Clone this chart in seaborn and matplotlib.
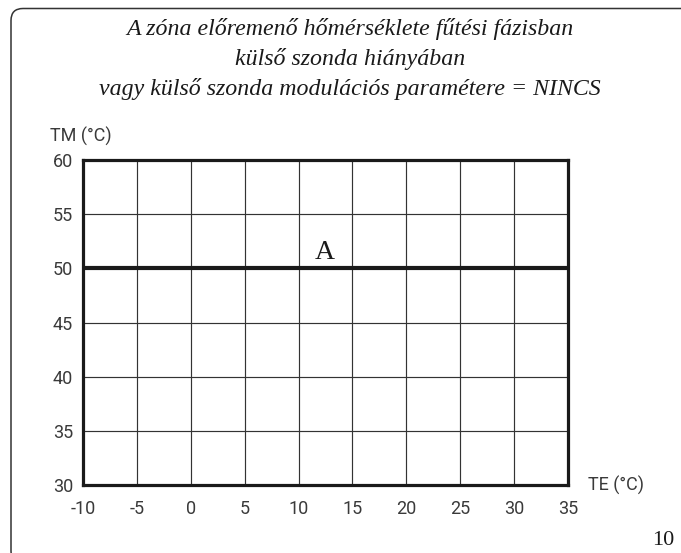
import matplotlib
matplotlib.use("Agg")
import matplotlib.pyplot as plt
import seaborn as sns
import pandas as pd
from matplotlib.patches import FancyBboxPatch
from matplotlib.transforms import IdentityTransform

# ---- data ----
title_lines = ["A zóna előremenő hőmérséklete fűtési fázisban",
               "külső szonda hiányában",
               "vagy külső szonda modulációs paramétere = NINCS"]
te_ticks = [-10, -5, 0, 5, 10, 15, 20, 25, 30, 35]
tm_ticks = [30, 35, 40, 45, 50, 55, 60]
curve_te = [-10, 35]
curve_tm = [50, 50]
curve_name = "A"
x_label = "TE (°C)"
y_label = "TM (°C)"
page_no = "10"

sns.set_theme(style="white")
plt.rcParams['font.family'] = ['Roboto', 'DejaVu Sans']

W, H = 681, 553
fig = plt.figure(figsize=(W / 100, H / 100), dpi=100)
ax = fig.add_axes([83 / W, 1 - 485 / H, (568 - 83) / W, (485 - 160) / H])

df = pd.DataFrame({"TE": curve_te, "TM": curve_tm})
sns.lineplot(data=df, x="TE", y="TM", ax=ax, color="#1a1a1a", linewidth=3.0, zorder=3)

ax.set_xlim(te_ticks[0], te_ticks[-1])
ax.set_ylim(tm_ticks[0], tm_ticks[-1])
ax.set_xticks(te_ticks)
ax.set_yticks(tm_ticks)
ax.set_xticklabels([str(t) for t in te_ticks])
ax.set_yticklabels([str(t) for t in tm_ticks])
ax.grid(True, color="#333333", linewidth=0.85)
ax.set_xlabel("")
ax.set_ylabel("")
for s in ax.spines.values():
    s.set_visible(True)
    s.set_color("#1a1a1a")
    s.set_linewidth(2.3)
ax.tick_params(axis="both", length=0, labelsize=13, colors="#3a3a3a")
ax.tick_params(axis="y", pad=7)
ax.tick_params(axis="x", pad=11)

ax.text(12.4, 50.85, curve_name, ha="center", va="baseline",
        fontsize=20, family="Liberation Serif", color="#1a1a1a")

fig.text(50 / W, 1 - 136 / H, y_label, ha="left", va="center",
         fontsize=13, color="#3a3a3a")
fig.text(588 / W, 1 - 485 / H, x_label, ha="left", va="center",
         fontsize=13, color="#3a3a3a")

for i, line in enumerate(title_lines):
    fig.text(350 / W, 1 - (35 + 30 * i) / H, line, ha="center", va="baseline",
             fontsize=17.2, family="Liberation Serif", style="italic", color="#1a1a1a")

fig.text(674 / W, 1 - 545 / H, page_no, ha="right", va="baseline",
         fontsize=16, family="Liberation Serif", color="#1a1a1a")

border = FancyBboxPatch((11, -10), 720, H - 8.5 + 10,
                        boxstyle="round,pad=0,rounding_size=12",
                        transform=IdentityTransform(), fill=False,
                        edgecolor="#333333", linewidth=1.1)
fig.patches.append(border)

fig.savefig("out.png", dpi=100)
